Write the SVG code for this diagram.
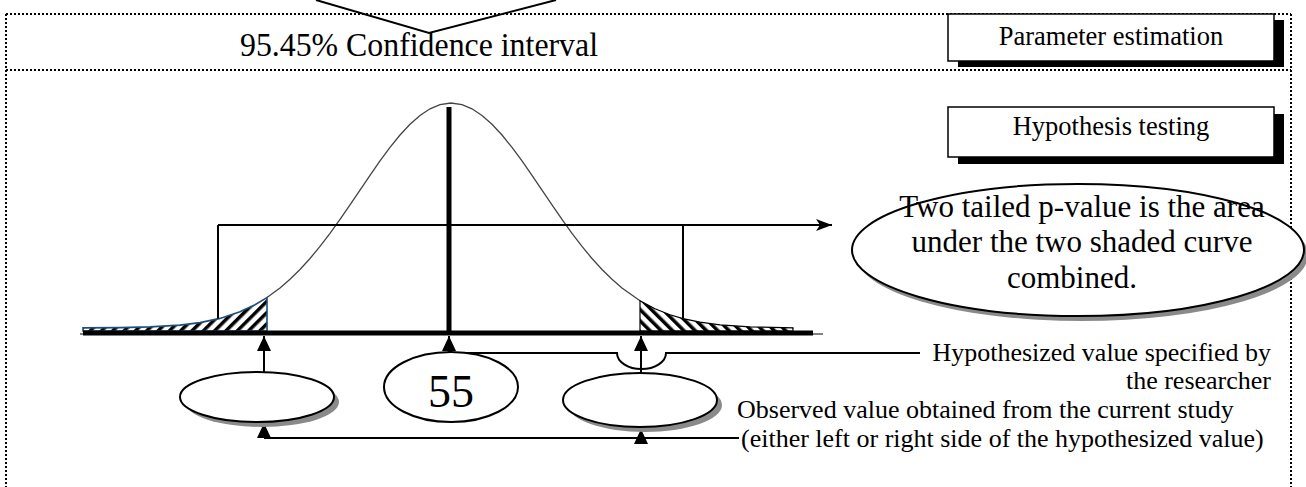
<svg xmlns="http://www.w3.org/2000/svg" width="1306" height="487" viewBox="0 0 1306 487">
<style>
.t{font-family:"Liberation Serif","Times New Roman",serif;fill:#000}
.frame{fill:none;stroke:#000;stroke-width:2;stroke-dasharray:2 2}
.ln{fill:none;stroke:#000;stroke-width:2}
.box{fill:#fff;stroke:#000;stroke-width:1.5}
.sh{fill:#000}
.ell{fill:#fff;stroke:#000;stroke-width:2}
.gsh{fill:#8a8a8a}
</style>
<defs>
<marker id="tri" markerUnits="userSpaceOnUse" viewBox="0 0 15 14" refX="15" refY="7" markerWidth="15" markerHeight="14" orient="auto">
<path d="M0,0 L15,7 L0,14 z" fill="#000"/>
</marker>
<marker id="stealth" markerUnits="userSpaceOnUse" viewBox="0 0 16 12" refX="16" refY="6" markerWidth="16" markerHeight="12" orient="auto">
<path d="M0,0 L16,6 L0,12 L4,6 z" fill="#000"/>
</marker>
<pattern id="hatchL" patternUnits="userSpaceOnUse" width="8" height="8" patternTransform="rotate(45)">
<rect width="8" height="8" fill="#fff"/><rect width="3.5" height="8" fill="#000"/>
</pattern>
<pattern id="hatchR" patternUnits="userSpaceOnUse" width="8" height="8" patternTransform="rotate(-45)">
<rect width="8" height="8" fill="#fff"/><rect width="3.5" height="8" fill="#000"/>
</pattern>
</defs>
<rect width="1306" height="487" fill="#fff"/>

<g id="frame">
<line class="frame" x1="6" y1="14" x2="1291" y2="14"/>
<line class="frame" x1="6" y1="70" x2="1291" y2="70"/>
<line class="frame" x1="6" y1="14" x2="6" y2="487"/>
<line class="frame" x1="1291" y1="14" x2="1291" y2="487"/>
</g>

<g id="confidence">
<path class="ln" d="M316,0 L429,33 L556,0" stroke-width="2.5"/>
<text class="t" x="240" y="56" font-size="34" textLength="358" lengthAdjust="spacingAndGlyphs">95.45% Confidence interval</text>
</g>

<g id="param-box">
<rect class="sh" x="958" y="20" width="326" height="47"/>
<rect class="box" x="948" y="14" width="326" height="47"/>
<text class="t" x="1111" y="45" font-size="26.5" text-anchor="middle">Parameter estimation</text>
</g>

<g id="hyp-box">
<rect class="sh" x="958" y="114" width="326" height="50"/>
<rect class="box" x="948" y="107" width="326" height="50"/>
<text class="t" x="1111" y="135" font-size="26.5" text-anchor="middle">Hypothesis testing</text>
</g>

<g id="curve">
<polyline fill="none" stroke="#444" stroke-width="1.3" points="267,297.6 280,288 290,279.3 300,269.5 310,258.5 320,246.4 330,233.3 340,219.3 350,204.8 360,190.1 370,175.3 380,160.9 390,147.4 400,135 410,124.3 420,115.4 430,108.8 440,104.6 451,103 462,104.6 472,108.8 482,115.4 492,124.3 502,135 512,147.4 522,160.9 532,175.3 542,190.1 552,204.8 562,219.3 572,233.3 582,246.4 592,258.5 602,269.5 612,279.3 622,288 640,300.7"/>
<path d="M83,331 L83,327.9 L120,327.65 L150,326.9 L180,325.1 L200,322.6 L220,318.4 L240,311.8 L255,304.7 L267,297.6 L267,331 Z" fill="url(#hatchL)" stroke="#1f4e79" stroke-width="1.6"/>
<path d="M640,331 L640,300.7 L655,308.7 L670,314.8 L683,318.6 L700,322.2 L720,324.9 L750,326.9 L793,327.8 L793,331 Z" fill="url(#hatchR)" stroke="#000" stroke-width="1.2"/>
</g>

<g id="connectors">
<line class="ln" x1="218" y1="225" x2="218" y2="318.4"/>
<line class="ln" x1="683" y1="225" x2="683" y2="318.6"/>
<line class="ln" x1="218" y1="225" x2="832" y2="225" marker-end="url(#stealth)"/>
<line x1="449" y1="107" x2="449" y2="333" stroke="#000" stroke-width="5"/>
<line x1="83" y1="333" x2="813" y2="333" stroke="#000" stroke-width="5"/>
<line x1="80" y1="334" x2="823" y2="334" stroke="#000" stroke-width="1"/>
<line class="ln" x1="264" y1="372" x2="264" y2="336" marker-end="url(#tri)"/>
<line class="ln" x1="449" y1="353" x2="449" y2="336" marker-end="url(#tri)"/>
<line class="ln" x1="641" y1="372" x2="641" y2="336" marker-end="url(#tri)"/>
<path class="ln" d="M449,353 H617 A24.5 16 0 0 0 666,353 H920"/>
<path class="ln" d="M739,438 H264"/>
<line class="ln" x1="264" y1="438" x2="264" y2="423" marker-end="url(#tri)"/>
<line class="ln" x1="641" y1="438" x2="641" y2="429" marker-end="url(#tri)"/>
</g>

<g id="pvalue-ellipse">
<ellipse class="gsh" cx="1082" cy="255" rx="226" ry="66"/>
<ellipse class="ell" cx="1078" cy="250" rx="226" ry="66" stroke-width="1.5"/>
<text class="t" font-size="31" text-anchor="middle"><tspan x="1082" y="217">Two tailed p-value is the area</tspan><tspan x="1082" y="252">under the two shaded curve</tspan><tspan x="1072" y="288">combined.</tspan></text>
</g>

<g id="left-ellipse">
<ellipse class="gsh" cx="262" cy="402" rx="77" ry="25"/>
<ellipse class="ell" cx="257" cy="397" rx="77" ry="25"/>
</g>

<g id="hyp-ellipse">
<ellipse class="ell" cx="451" cy="387" rx="67" ry="35"/>
<text class="t" x="451" y="407" font-size="46" text-anchor="middle">55</text>
</g>

<g id="right-ellipse">
<ellipse class="gsh" cx="645" cy="405" rx="77" ry="27"/>
<ellipse class="ell" cx="640" cy="400" rx="77" ry="27"/>
</g>

<g id="labels">
<text class="t" x="1271" y="361" font-size="26" text-anchor="end">Hypothesized value specified by</text>
<text class="t" x="1271" y="389" font-size="26" text-anchor="end">the researcher</text>
<text class="t" x="737" y="418" font-size="26">Observed value obtained from the current study</text>
<text class="t" x="741" y="447" font-size="26">(either left or right side of the hypothesized value)</text>
</g>
</svg>
